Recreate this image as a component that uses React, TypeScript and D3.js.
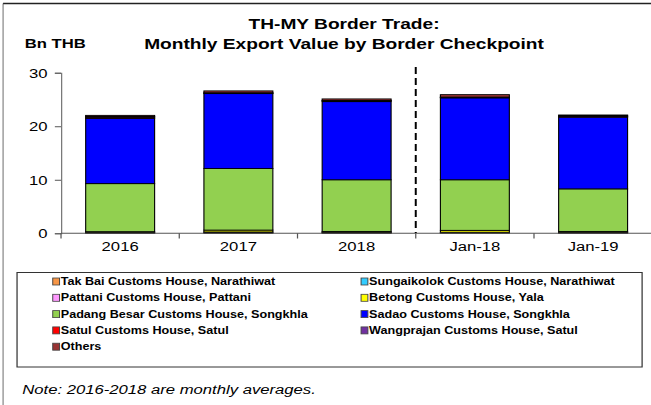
import React, { useEffect, useRef } from "react";
import * as d3 from "d3";

const categories = ["2016", "2017", "2018", "Jan-18", "Jan-19"];

const seriesNames = [
  "Tak Bai Customs House, Narathiwat",
  "Sungaikolok Customs House, Narathiwat",
  "Pattani Customs House, Pattani",
  "Betong Customs House, Yala",
  "Padang Besar Customs House, Songkhla",
  "Sadao Customs House, Songkhla",
  "Satul Customs House, Satul",
  "Wangprajan Customs House, Satul",
  "Others",
];

const seriesColors = [
  "#F79646",
  "#33CCFF",
  "#FF99FF",
  "#FFFF00",
  "#92D050",
  "#0000FF",
  "#FF0000",
  "#7030A0",
  "#993333",
];

// Bn THB, one value per category
const takBai = [0.05, 0.1, 0.05, 0.1, 0.05];
const sungaikolok = [0.1, 0.15, 0.1, 0.1, 0.1];
const pattani = [0.0, 0.0, 0.0, 0.0, 0.0];
const betong = [0.15, 0.35, 0.2, 0.35, 0.2];
const padangBesar = [8.98, 11.5, 9.65, 9.45, 7.95];
const sadao = [12.2, 14.0, 14.6, 15.3, 13.4];
const satul = [0.2, 0.1, 0.15, 0.1, 0.15];
const wangprajan = [0.15, 0.05, 0.05, 0.05, 0.1];
const others = [0.2, 0.35, 0.3, 0.45, 0.15];

const yTicks = [0, 10, 20, 30];

const allSeries = [takBai, sungaikolok, pattani, betong, padangBesar, sadao, satul, wangprajan, others];

const FONT = "'Liberation Sans', Arial, sans-serif";

function App() {
  const svgRef = useRef(null);

  // chart is laid out on a 527 wide canvas and stretched to 651
  const vbWidth = 527;
  const svgWidth = 651;
  const svgHeight = 405;

  useEffect(() => {
    const svg = d3.select(svgRef.current);
    svg.selectAll("*").remove();

    // frame
    svg.append("line").attr("x1", 2.5).attr("x2", 2.5).attr("y1", 3.5).attr("y2", 405)
      .attr("stroke", "#888").attr("stroke-width", 1);
    svg.append("line").attr("x1", 2.5).attr("x2", 527).attr("y1", 3.5).attr("y2", 3.5)
      .attr("stroke", "#222").attr("stroke-width", 1.3);

    const x = d3.scaleBand().domain(categories).range([49.4, 528]).paddingInner(0.417).paddingOuter(0.2085);
    const y = d3.scaleLinear().domain([0, 30]).range([233.3, 72.7]);

    const rows = categories.map((c, i) => {
      const row = { cat: c };
      allSeries.forEach((s, k) => (row["s" + k] = s[i]));
      return row;
    });
    const stacked = d3.stack().keys(allSeries.map((_, k) => "s" + k))(rows);

    const g = svg.append("g");
    stacked.forEach((layer, k) => {
      g.selectAll(".bar" + k)
        .data(layer)
        .enter()
        .append("rect")
        .attr("x", (d) => x(d.data.cat))
        .attr("y", (d) => y(d[1]))
        .attr("width", x.bandwidth())
        .attr("height", (d) => Math.max(0, y(d[0]) - y(d[1])))
        .attr("fill", seriesColors[k])
        .attr("stroke", "#000")
        .attr("stroke-width", 0.9);
    });

    // y axis
    const yAxis = svg.append("g")
      .attr("transform", "translate(49.4,0)")
      .call(d3.axisLeft(y).tickValues(yTicks).tickSize(5).tickPadding(6));
    yAxis.select(".domain").attr("stroke", "#777");
    yAxis.selectAll(".tick line").attr("stroke", "#555");
    yAxis.selectAll("text").attr("font-family", FONT).attr("font-size", 13.5).attr("fill", "#000");

    // x axis
    const step = x.step();
    svg.append("line").attr("x1", 49.4).attr("x2", 528).attr("y1", 233.3).attr("y2", 233.3)
      .attr("stroke", "#555").attr("stroke-width", 1);
    d3.range(categories.length + 1).forEach((i) => {
      svg.append("line")
        .attr("x1", 49.4 + i * step).attr("x2", 49.4 + i * step)
        .attr("y1", 233.3).attr("y2", 238.5)
        .attr("stroke", "#555");
    });
    svg.selectAll(".xlab")
      .data(categories)
      .enter()
      .append("text")
      .attr("x", (d) => x(d) + x.bandwidth() / 2)
      .attr("y", 251)
      .attr("text-anchor", "middle")
      .attr("font-family", FONT)
      .attr("font-size", 13.5)
      .text((d) => d);

    // separator between yearly averages and monthly values
    const sepX = x("Jan-18") - (step - x.bandwidth()) / 2;
    svg.append("line")
      .attr("x1", sepX).attr("x2", sepX)
      .attr("y1", 67).attr("y2", 233)
      .attr("stroke", "#000").attr("stroke-width", 1.6)
      .attr("stroke-dasharray", "7,4");

    // titles
    svg.append("text").attr("x", 278.5).attr("y", 29).attr("text-anchor", "middle")
      .attr("font-family", FONT).attr("font-weight", "bold").attr("font-size", 15.5)
      .text("TH-MY Border Trade:");
    svg.append("text").attr("x", 278.5).attr("y", 49).attr("text-anchor", "middle")
      .attr("font-family", FONT).attr("font-weight", "bold").attr("font-size", 15.5)
      .text("Monthly Export Value by Border Checkpoint");
    svg.append("text").attr("x", 20).attr("y", 48)
      .attr("font-family", FONT).attr("font-weight", "bold").attr("font-size", 13.5)
      .text("Bn THB");

    // legend
    svg.append("rect").attr("x", 13.8).attr("y", 272.5).attr("width", 506).attr("height", 94.5)
      .attr("fill", "#fff").attr("stroke", "#333").attr("stroke-width", 1);
    seriesNames.forEach((name, k) => {
      const col = k % 2;
      const row = Math.floor(k / 2);
      const lx = col === 0 ? 42.7 : 292.3;
      const ly = 281.5 + row * 16.3;
      svg.append("rect").attr("x", lx).attr("y", ly - 3.5).attr("width", 5.5).attr("height", 7)
        .attr("fill", seriesColors[k]).attr("stroke", "#444").attr("stroke-width", 0.8);
      svg.append("text").attr("x", lx + 6.5).attr("y", ly + 3.7)
        .attr("font-family", FONT).attr("font-weight", "bold").attr("font-size", 10.2)
        .text(name);
    });

    // note
    svg.append("text").attr("x", 18).attr("y", 394)
      .attr("font-family", FONT).attr("font-style", "italic").attr("font-size", 13.5)
      .text("Note: 2016-2018 are monthly averages.");
  }, []);

  return (
    <div style={{ position: "absolute", left: 0, top: 0 }}>
      <svg
        ref={svgRef}
        width={svgWidth}
        height={svgHeight}
        viewBox={`0 0 ${vbWidth} ${svgHeight}`}
        preserveAspectRatio="none"
        style={{ display: "block", background: "#fff" }}
      ></svg>
    </div>
  );
}

export default App;
